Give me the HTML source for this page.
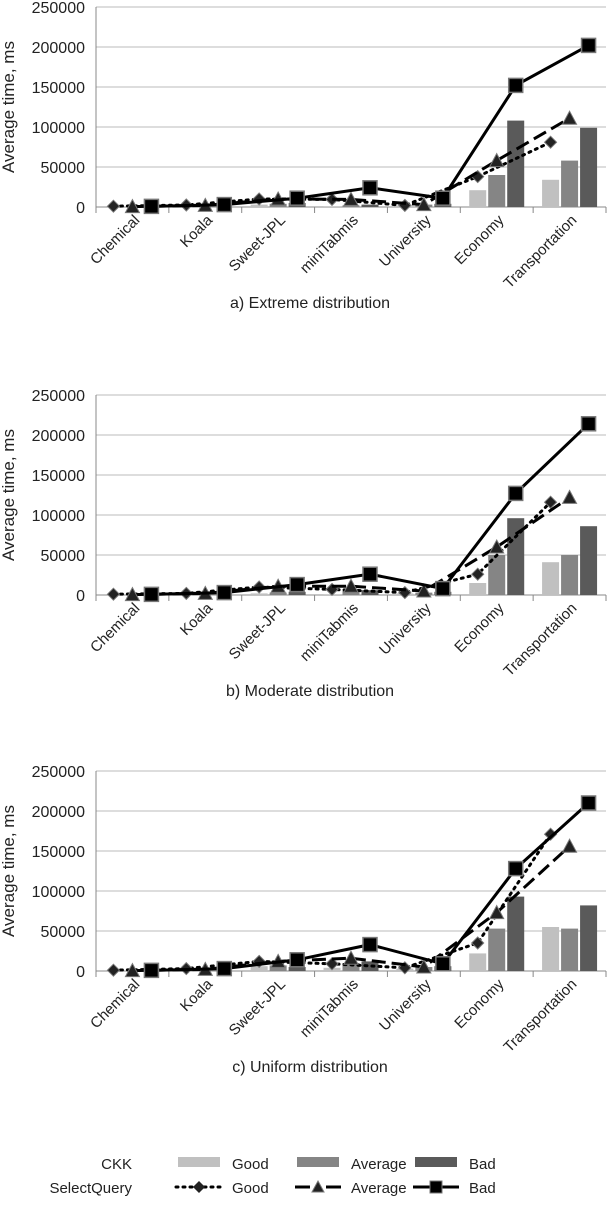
<!DOCTYPE html>
<html><head><meta charset="utf-8"><style>
body{margin:0;background:#fff;font-family:"Liberation Sans",sans-serif;}
svg text{font-family:"Liberation Sans",sans-serif;}
</style></head><body>
<svg id="svg" width="608" height="1200"></svg>
<script>
const categories=["Chemical","Koala","Sweet-JPL","miniTabmis","University","Economy","Transportation"];
const yTicks=[0,50000,100000,150000,200000,250000];
const captions=["a) Extreme distribution","b) Moderate distribution","c) Uniform distribution"];
const ckkGood1=[0,0,3000,1000,2000,21000,34000];
const ckkAvg1=[0,0,4000,2000,3000,40000,58000];
const ckkBad1=[0,0,5000,3000,4000,108000,99000];
const sqGood1=[1000,2500,10000,9500,2000,38000,81000];
const sqAvg1=[500,2000,10000,9500,3000,58000,111000];
const sqBad1=[800,3000,11000,24000,11000,152000,202000];
const ckkGood2=[0,0,2000,1000,2000,15000,41000];
const ckkAvg2=[0,0,3000,5000,3000,50000,50000];
const ckkBad2=[0,0,4000,6000,4000,96000,86000];
const sqGood2=[1000,2000,10000,7000,3000,26000,116000];
const sqAvg2=[500,2000,11000,11000,5000,60000,122000];
const sqBad2=[800,3000,13000,26000,8000,127000,214000];
const ckkGood3=[0,0,6000,4000,3000,22000,55000];
const ckkAvg3=[0,0,7000,10000,5000,53000,53000];
const ckkBad3=[0,0,5000,12000,6000,93000,82000];
const sqGood3=[1000,3000,12000,9000,4000,35000,171000];
const sqAvg3=[500,2000,12000,16000,5000,73000,156000];
const sqBad3=[800,3000,14000,33000,9000,128000,210000];

const NS="http://www.w3.org/2000/svg";
const svg=document.getElementById('svg');
function mk(tag,attrs,parent){const e=document.createElementNS(NS,tag);for(const k in attrs)e.setAttribute(k,attrs[k]);(parent||svg).appendChild(e);return e;}
const L=96,R=606,W=R-L,cw=W/7;
function drawChart(idx,y0,bars,lines){
  const g=mk('g',{});
  
  
  const ys=v=>y0-v/250000*200;
  const xc=i=>L+cw*(i+0.5);
  yTicks.forEach(t=>{
    const ln=mk('line',{x1:L,x2:R,y1:ys(t),y2:ys(t),stroke:t===0?'#888':'#bbb','stroke-width':1},g);
    
    
    const tx=mk('text',{x:85,y:ys(t)+6,'text-anchor':'end','font-size':16,fill:'#222'},g);
    tx.textContent=t;
    
    
  });
  const ax=mk('line',{x1:L,x2:L,y1:ys(250000),y2:y0+6,stroke:'#888'},g);
  
  
  for(let i=0;i<=7;i++){const tk=mk('line',{x1:L+cw*i,x2:L+cw*i,y1:y0,y2:y0+6,stroke:'#888'},g);
    
    }
  const yt=mk('text',{transform:`translate(14,${y0-100}) rotate(-90)`,'text-anchor':'middle','font-size':17,fill:'#222'},g);
  yt.textContent='Average time, ms';
  
  
  categories.forEach((c,i)=>{
    const t=mk('text',{transform:`translate(${xc(i)+8},${y0+14}) rotate(-45)`,'text-anchor':'end','font-size':15,fill:'#222'},g);
    t.textContent=c;
    
    
  });
  const barCols=['#c0c0c0','#858585','#5a5a5a'];
  bars.forEach((arr,s)=>arr.forEach((v,i)=>{
    const x=xc(i)+(s-1)*19-8.5;
    const r=mk('rect',{x:x,y:ys(v),width:17,height:y0-ys(v),fill:barCols[s]},g);
    
    
  }));
  const dashes=['2,5','14,6','none'];
  lines.forEach((arr,s)=>{
    const pts=arr.map((v,i)=>[xc(i)+(s-1)*19,ys(v)]);
    const p=mk('polyline',{points:pts.map(p=>p.join(',')).join(' '),fill:'none',stroke:'#000','stroke-width':3,'stroke-dasharray':dashes[s],'stroke-linecap':s===0?'round':'butt'},g);
    
    
    pts.forEach(([x,y])=>{
      let m;
      if(s===0)m=mk('polygon',{points:`${x},${y-6} ${x+6},${y} ${x},${y+6} ${x-6},${y}`,fill:'#222',stroke:'#777'},g);
      else if(s===1)m=mk('polygon',{points:`${x},${y-7} ${x+7},${y+6} ${x-7},${y+6}`,fill:'#222',stroke:'#777'},g);
      else m=mk('rect',{x:x-7,y:y-7,width:14,height:14,fill:'#000',stroke:'#777','stroke-width':1.5},g);
      
      
    });
  });
  const cap=mk('text',{x:310,y:y0+101,'text-anchor':'middle','font-size':16,fill:'#222'},g);
  cap.textContent=captions[idx];
  
  
}
drawChart(0,207,[ckkGood1,ckkAvg1,ckkBad1],[sqGood1,sqAvg1,sqBad1]);
drawChart(1,595,[ckkGood2,ckkAvg2,ckkBad2],[sqGood2,sqAvg2,sqBad2]);
drawChart(2,971,[ckkGood3,ckkAvg3,ckkBad3],[sqGood3,sqAvg3,sqBad3]);
const lg=mk('g',{});


function lt(x,y,s,anchor){const t=mk('text',{x:x,y:y,'text-anchor':anchor||'start','font-size':15,fill:'#222'},lg);t.textContent=s;
  
  }
lt(132,1169,'CKK','end');lt(132,1193,'SelectQuery','end');
const lcols=['#c0c0c0','#858585','#5a5a5a'],labs=['Good','Average','Bad'],lx=[178,297,415];
lcols.forEach((c,i)=>{const r=mk('rect',{x:lx[i],y:1157,width:42,height:10,fill:c},lg);
  
  
  lt(lx[i]+54,1169,labs[i]);lt(lx[i]+54,1193,labs[i]);
  const y=1187;
  const ln=mk('line',{x1:lx[i]-2,x2:lx[i]+44,y1:y,y2:y,stroke:'#000','stroke-width':3,'stroke-dasharray':i===0?'2,5':'none','stroke-linecap':i===0?'round':'butt'},lg);
  
  
  const x=lx[i]+21;let m;
  if(i===0)m=mk('polygon',{points:`${x},${y-6} ${x+6},${y} ${x},${y+6} ${x-6},${y}`,fill:'#222'},lg);
  else if(i===1){mk('rect',{x:x-8,y:y-4,width:16,height:8,fill:'#fff'},lg);m=mk('polygon',{points:`${x},${y-6} ${x+6},${y+5} ${x-6},${y+5}`,fill:'#222',stroke:'#777'},lg);}
  else m=mk('rect',{x:x-6,y:y-6,width:12,height:12,fill:'#000',stroke:'#777'},lg);
  
  
});
</script>
</body></html>
